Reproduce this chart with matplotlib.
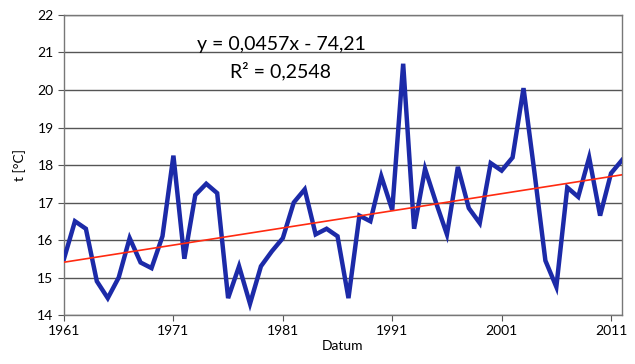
import numpy as np
import matplotlib.pyplot as plt

plt.rcParams['font.family'] = ['Lato', 'DejaVu Sans']

# Jahre und Temperaturen
roky = list(range(1961, 2013))
teploty = [15.5, 16.5, 16.3, 14.9, 14.45, 15.0, 16.05, 15.4, 15.25, 16.1,
           18.25, 15.5, 17.2, 17.5, 17.25, 14.45, 15.3, 14.3, 15.3, 15.7,
           16.05, 17.0, 17.35, 16.15, 16.3, 16.1, 14.45, 16.65, 16.5, 17.7,
           16.8, 20.7, 16.3, 17.9, 17.0, 16.15, 17.95, 16.85, 16.45, 18.05,
           17.85, 18.2, 20.05, 17.8, 15.45, 14.75, 17.4, 17.15, 18.2, 16.65,
           17.78, 18.13]

# Trend (aus der Gleichung)
smernice = 0.0457
posun = -74.21
rovnice = "y = 0,0457x - 74,21"
r2_text = "R² = 0,2548"

xticky = [1961, 1971, 1981, 1991, 2001, 2011]

fig = plt.figure(figsize=(6.35, 3.64), dpi=100)
ax = fig.add_axes([0.1008, 0.1346, 0.8787, 0.8242])

ax.plot(roky, teploty, color='#1c2aa8', linewidth=3.2, solid_joinstyle='miter', zorder=3)
x = np.array([roky[0], roky[-1]])
ax.plot(x, smernice * x + posun, color='#ff2a10', linewidth=1.2, zorder=4)

ax.set_xlim(1961, 2012)
ax.set_ylim(14, 22)
ax.set_yticks(range(14, 23))
ax.set_xticks(xticky)
ax.grid(axis='y', color='#555555', linewidth=1.0)
ax.set_axisbelow(True)
for s in ax.spines.values():
    s.set_color('#777777')
    s.set_linewidth(1.0)
ax.tick_params(axis='both', direction='out', color='#555555', length=4, labelsize=10, labelcolor='black')

ax.set_ylabel("t [°C]", fontsize=10, labelpad=8)
ax.set_xlabel("Datum", fontsize=10, labelpad=2)

ax.text(1980.9, 21.2, rovnice, fontsize=14, ha='center', va='center')
ax.text(1980.8, 20.5, r2_text, fontsize=14, ha='center', va='center')

plt.savefig("out.png", dpi=100)
